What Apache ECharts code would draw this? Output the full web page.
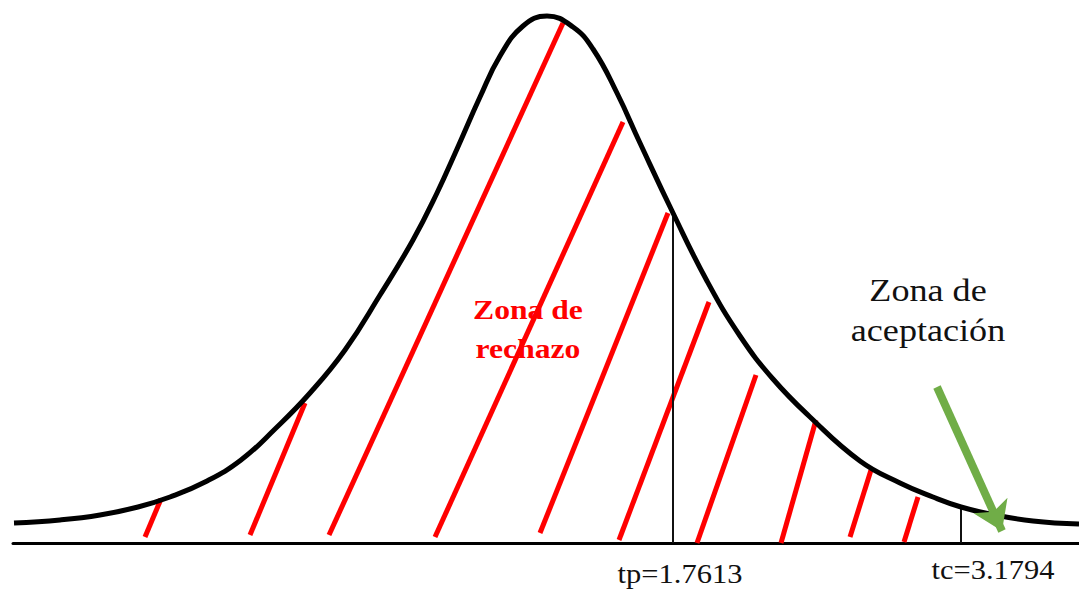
<!DOCTYPE html>
<html>
<head>
<meta charset="utf-8">
<script src="https://cdn.jsdelivr.net/npm/echarts@6/dist/echarts.min.js"></script>
<style>
html,body{margin:0;padding:0;background:#fff;}
#chart{width:1079px;height:589px;}
</style>
</head>
<body>
<div id="chart"></div>
<script>
// ---- Data (schematic units: x = horizontal position, y = height above baseline) ----
const curveX = [14, 60, 100, 138, 170, 205, 241, 275, 310, 345, 380, 413, 437, 457, 480, 500, 523, 547,
                573, 593, 617, 640, 673, 707, 740, 773, 810, 860, 900, 933, 961, 990, 1033, 1079];
const curveY = [20, 23, 28, 36, 46, 61, 83, 114, 150, 193, 248, 303, 350, 394, 446, 487, 517, 527,
                516, 494, 450, 400, 330, 262, 207, 164, 126, 82, 60, 46, 36, 29, 22, 19];

// red hatch segments (bottom point -> top point)
const hatchX0 = [145, 250, 329, 435, 540, 619, 697, 781, 850, 904];
const hatchY0 = [6, 8, 8, 6, 10, 3, 0, 0, 6, 1];
const hatchX1 = [161, 305, 563, 623, 668, 709, 756, 816, 871, 918];
const hatchY1 = [44, 140, 520, 421, 330, 241, 168, 123, 73, 46];

// critical values
const tNames = ['tp', 'tc'];
const tValues = [1.7613, 3.1794];
const tPosX = [673, 961];
const tTopY = [330, 34];

// arrow (from -> to)
const arrowFrom = [937, 156];
const arrowTo = [1002, 12];

// text
const rejectLines = ['Zona de', 'rechazo'];
const acceptLines = ['Zona de', 'aceptación'];

// ---- Build ----
const curveData = curveX.map((x, i) => [x, curveY[i]]);
const hatchData = hatchX0.map((x, i) => ({ coords: [[x, hatchY0[i]], [hatchX1[i], hatchY1[i]]] }));
const vData = tPosX.map((x, i) => ({ coords: [[x, 0], [x, tTopY[i]]] }));
const tLabels = tNames.map((n, i) => n + '=' + tValues[i].toFixed(4));

const chart = echarts.init(document.getElementById('chart'), null, { renderer: 'svg' });

const serif = '"Liberation Serif", "Times New Roman", serif';

chart.setOption({
  animation: false,
  backgroundColor: '#ffffff',
  grid: { left: 13, right: 0, top: 15, bottom: 46 },
  xAxis: {
    type: 'value', min: 13, max: 1079,
    axisLine: { show: true, onZero: false, lineStyle: { color: '#000', width: 3 } },
    axisTick: { show: false }, axisLabel: { show: false }, splitLine: { show: false }
  },
  yAxis: {
    type: 'value', min: 0, max: 528,
    axisLine: { show: false }, axisTick: { show: false }, axisLabel: { show: false }, splitLine: { show: false }
  },
  series: [
    {
      type: 'lines', coordinateSystem: 'cartesian2d', z: 2,
      lineStyle: { color: '#ff0000', width: 5, opacity: 1 },
      data: hatchData
    },
    {
      type: 'lines', coordinateSystem: 'cartesian2d', z: 3,
      lineStyle: { color: '#111', width: 2, opacity: 1 },
      data: vData
    },
    {
      type: 'line', z: 5, data: curveData, smooth: 0.45,
      symbol: 'none', lineStyle: { color: '#000', width: 5 }
    },
    {
      type: 'lines', coordinateSystem: 'cartesian2d', z: 6,
      symbol: ['none', 'arrow'], symbolSize: [24, 28],
      lineStyle: { color: '#70ad47', width: 8, opacity: 1 },
      data: [{ coords: [arrowFrom, arrowTo] }]
    }
  ],
  graphic: [
    { type: 'text', x: 528, y: 309, scaleX: 1.13, z: 10,
      style: { text: rejectLines[0], font: 'bold 28px ' + serif, fill: '#ff0000', align: 'center', verticalAlign: 'middle' } },
    { type: 'text', x: 528, y: 348, scaleX: 1.13, z: 10,
      style: { text: rejectLines[1], font: 'bold 28px ' + serif, fill: '#ff0000', align: 'center', verticalAlign: 'middle' } },
    { type: 'text', x: 928, y: 290, scaleX: 1.13, z: 10,
      style: { text: acceptLines[0], font: '32px ' + serif, fill: '#111', align: 'center', verticalAlign: 'middle' } },
    { type: 'text', x: 928, y: 330, scaleX: 1.13, z: 10,
      style: { text: acceptLines[1], font: '32px ' + serif, fill: '#111', align: 'center', verticalAlign: 'middle' } },
    { type: 'text', x: 680, y: 574, scaleX: 1.13, z: 10,
      style: { text: tLabels[0], font: '27px ' + serif, fill: '#111', align: 'center', verticalAlign: 'middle' } },
    { type: 'text', x: 993, y: 570, scaleX: 1.13, z: 10,
      style: { text: tLabels[1], font: '27px ' + serif, fill: '#111', align: 'center', verticalAlign: 'middle' } }
  ]
});
</script>
</body>
</html>
